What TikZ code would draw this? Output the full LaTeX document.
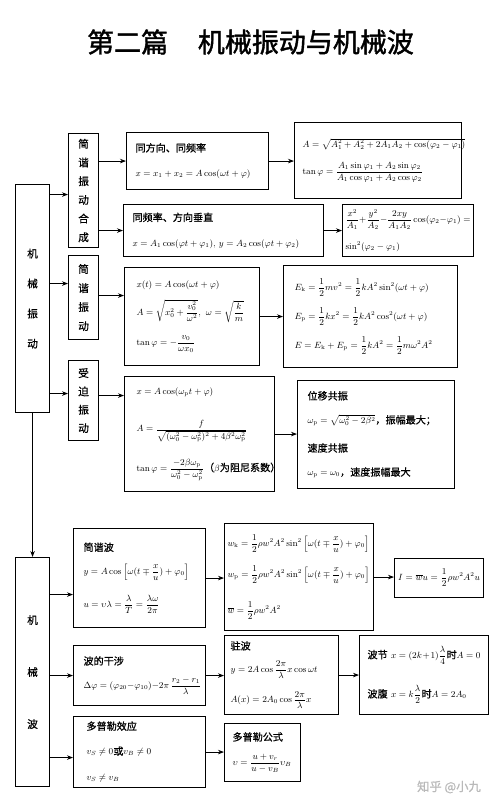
\documentclass[tikz,border=0pt]{standalone}
\usepackage{amsmath}
\usepackage[no-math]{fontspec}
\setmainfont{Noto Sans CJK SC}[Scale=1.12, FakeBold=0.8]
\newfontfamily\titlefont{Noto Sans CJK SC}[FakeBold=1.5]
\usetikzlibrary{arrows.meta,positioning}
\relpenalty=10000
\binoppenalty=10000
\tikzset{
  frame box/.style={
    draw, line width=1.1pt, anchor=north west, align=left,
    inner xsep=8pt, inner ysep=2pt,
    font=\fontsize{9}{11}\selectfont
  },
  side box/.style={
    draw, line width=1.1pt, anchor=north west, align=center,
    inner sep=0pt, font=\fontsize{9.5}{12}\selectfont
  },
  link/.style={-{Stealth[length=6pt,width=4.5pt]}, line width=0.9pt}
}

\begin{document}
\begin{tikzpicture}[x=1pt,y=-1pt]
    \useasboundingbox (0,0) rectangle (500,808);
    \node[font=\titlefont\fontsize{27}{30}\selectfont] (title) at (250.5,42) {第二篇\hspace{1.1em}机械振动与机械波};

    % left column
    \node[side box, minimum width=34pt, minimum height=228pt] (zhendong) at (15,184) {机\\[18pt]械\\[18pt]振\\[18pt]动};
    \node[side box, minimum width=34pt, minimum height=229pt] (bo) at (15,557) {机\\[40pt]械\\[40pt]波};

    % vibration
    \node[side box, minimum width=30pt, minimum height=114pt] (hecheng) at (68,133) {简\\[6.7pt]谐\\[6.7pt]振\\[6.7pt]动\\[6.7pt]合\\[6.7pt]成};
    \node[side box, minimum width=30pt, minimum height=84pt] (jianxie) at (68,255) {简\\[7pt]谐\\[7pt]振\\[7pt]动};
    \node[side box, minimum width=30pt, minimum height=80pt] (shoupo) at (68,360) {受\\[6.3pt]迫\\[6.3pt]振\\[6.3pt]动};

    \node[frame box, inner xsep=9pt, text width=124pt, minimum height=57pt] (tong) at (126,132)
      {同方向、同频率\\[14pt]$x=x_1+x_2=A\cos(\omega t+\varphi)$};
    \node[frame box, text width=151pt, minimum height=76pt] (hehe) at (294,122)
      {$A=\sqrt{A_1^2+A_2^2+2A_1A_2+\cos(\varphi_2-\varphi_1)}$\\[12pt]
       $\tan\varphi=\dfrac{A_1\sin\varphi_1+A_2\sin\varphi_2}{A_1\cos\varphi_1+A_2\cos\varphi_2}$};
    \node[frame box, inner xsep=9pt, text width=182pt, minimum height=52pt] (chuizhi) at (123,204)
      {同频率、方向垂直\\[14pt]$x=A_1\cos(\varphi t+\varphi_1),\,y=A_2\cos(\varphi t+\varphi_2)$};
    \node[frame box, inner xsep=3pt, text width=125pt, minimum height=52pt] (guiji) at (342,204)
      {$\dfrac{x^2}{A_1}+\dfrac{y^2}{A_2}-\dfrac{2xy}{A_1A_2}\cos(\varphi_2-\varphi_1)=$\\[11pt]
       $\sin^2(\varphi_2-\varphi_1)$};
    \node[frame box, inner xsep=12pt, text width=111pt, minimum height=98pt] (yundong) at (124,267)
      {$x(t)=A\cos(\omega t+\varphi)$\\[9pt]
       $A=\sqrt{x_0^2+\dfrac{v_0^2}{\omega^2}},\ \omega=\sqrt{\dfrac{k}{m}}$\\[12pt]
       $\tan\varphi=-\dfrac{v_0}{\omega x_0}$};
    \node[frame box, inner xsep=11pt, text width=152pt, minimum height=102pt] (nengliang) at (283,265)
      {$E_\mathrm{k}=\dfrac12mv^2=\dfrac12kA^2\sin^2(\omega t+\varphi)$\\[10pt]
       $E_\mathrm{p}=\dfrac12kx^2=\dfrac12kA^2\cos^2(\omega t+\varphi)$\\[10pt]
       $E=E_\mathrm{k}+E_\mathrm{p}=\dfrac12kA^2=\dfrac12m\omega^2A^2$};
    \node[frame box, inner xsep=12pt, text width=126pt, minimum height=115pt] (poshi) at (124,376)
      {$x=A\cos(\omega_\mathrm{p}t+\varphi)$\\[22pt]
       $A=\dfrac{f}{\sqrt{(\omega_0^2-\omega_\mathrm{p}^2)^2+4\beta^2\omega_\mathrm{p}^2}}$\\[16pt]
       $\tan\varphi=\dfrac{-2\beta\omega_\mathrm{p}}{\omega_0^2-\omega_\mathrm{p}^2}$（$\beta$为阻尼系数）};
    \node[frame box, inner xsep=10pt, text width=137pt, minimum height=108pt] (gongzhen) at (297,380)
      {位移共振\\[13pt]
       $\omega_\mathrm{p}=\sqrt{\omega_0^2-2\beta^2}$，振幅最大；\\[16pt]
       速度共振\\[13pt]
       $\omega_\mathrm{p}=\omega_0$，速度振幅最大};

    % waves
    \node[frame box, inner xsep=10pt, text width=112pt, minimum height=99pt] (jianbo) at (73,528)
      {简谐波\\[11pt]
       $y=A\cos\left[\omega(t\mp\dfrac{x}{u})+\varphi_0\right]$\\[14pt]
       $u=\upsilon\lambda=\dfrac{\lambda}{T}=\dfrac{\lambda\omega}{2\pi}$};
    \node[frame box, inner xsep=3pt, text width=143pt, minimum height=107pt] (midu) at (224,523)
      {$w_\mathrm{k}=\dfrac12\rho w^2A^2\sin^2\left[\omega(t\mp\dfrac{x}{u})+\varphi_0\right]$\\[13pt]
       $w_\mathrm{p}=\dfrac12\rho w^2A^2\sin^2\left[\omega(t\mp\dfrac{x}{u})+\varphi_0\right]$\\[17pt]
       $\overline{w}=\dfrac12\rho w^2A^2$};
    \node[frame box, inner xsep=2pt, text width=85pt, minimum height=39pt, align=center] (qiangdu) at (394,558)
      {$I=\overline{w}u=\dfrac12\rho w^2A^2u$};
    \node[frame box, inner xsep=10pt, text width=112pt, minimum height=60pt] (ganshe) at (73,645)
      {波的干涉\\[11pt]
       $\Delta\varphi=(\varphi_{20}-\varphi_{10})-2\pi\,\dfrac{r_2-r_1}{\lambda}$};
    \node[frame box, inner xsep=6pt, text width=102pt, minimum height=79pt] (zhubo) at (224,635)
      {驻波\\[9pt]
       $y=2A\cos\dfrac{2\pi}{\lambda}x\cos\omega t$\\[12pt]
       $A(x)=2A_0\cos\dfrac{2\pi}{\lambda}x$};
    \node[frame box, inner xsep=8pt, text width=113pt, minimum height=79pt] (jiedian) at (359,635)
      {波节 $x=(2k+1)\dfrac{\lambda}{4}$时$A=0$\\[20pt]
       波腹 $x=k\dfrac{\lambda}{2}$时$A=2A_0$};
    \node[frame box, inner xsep=13pt, text width=106pt, minimum height=71pt] (duopule) at (73,716)
      {多普勒效应\\[14pt]
       $v_S\neq0$或$v_B\neq0$\\[15pt]
       $v_S\neq v_B$};
    \node[frame box, text width=60pt, minimum height=58pt] (gongshi) at (224,723)
      {多普勒公式\\[12pt]
       $\upsilon=\dfrac{u+v_r}{u-v_B}\upsilon_B$};

    \node[text=gray!55, font=\fontsize{11}{13}\selectfont] (mark) at (449,787) {知乎 @小九};

    % connectors
    \draw[link] ([yshift=-4pt]hecheng.west -| zhendong.east) -- ([yshift=-4pt]hecheng.west);
    \draw[link] ([yshift=14pt]jianxie.west -| zhendong.east) -- ([yshift=14pt]jianxie.west);
    \draw[link] ([yshift=7pt]shoupo.west -| zhendong.east) -- ([yshift=7pt]shoupo.west);
    \draw[link] (tong.west -| hecheng.east) -- (tong.west);
    \draw[link] (chuizhi.west -| hecheng.east) -- (chuizhi.west);
    \draw[link] (tong.east) -- (tong.east -| hehe.west);
    \draw[link] (chuizhi.east) -- (chuizhi.east -| guiji.west);
    \draw[link] ([yshift=21pt]yundong.west -| jianxie.east) -- ([yshift=21pt]yundong.west);
    \draw[link] (yundong.east) -- (yundong.east -| nengliang.west);
    \draw[link] ([yshift=5pt]shoupo.east) -- ([yshift=5pt]shoupo.east -| poshi.west);
    \draw[link] (poshi.east) -- (poshi.east -| gongzhen.west);
    \draw[link] (zhendong.south) -- (bo.north);
    \draw[link] ([yshift=-16.5pt]jianbo.west -| bo.east) -- ([yshift=-16.5pt]jianbo.west);
    \draw[link] (jianbo.east) -- (jianbo.east -| midu.west);
    \draw[link] (midu.east) -- (midu.east -| qiangdu.west);
    \draw[link] (ganshe.west -| bo.east) -- (ganshe.west);
    \draw[link] (ganshe.east) -- (ganshe.east -| zhubo.west);
    \draw[link] (zhubo.east) -- (zhubo.east -| jiedian.west);
    \draw[link] ([yshift=-5.5pt]duopule.west -| bo.east) -- ([yshift=-5.5pt]duopule.west);
    \draw[link] (duopule.east) -- (duopule.east -| gongshi.west);
\end{tikzpicture}
\end{document}
